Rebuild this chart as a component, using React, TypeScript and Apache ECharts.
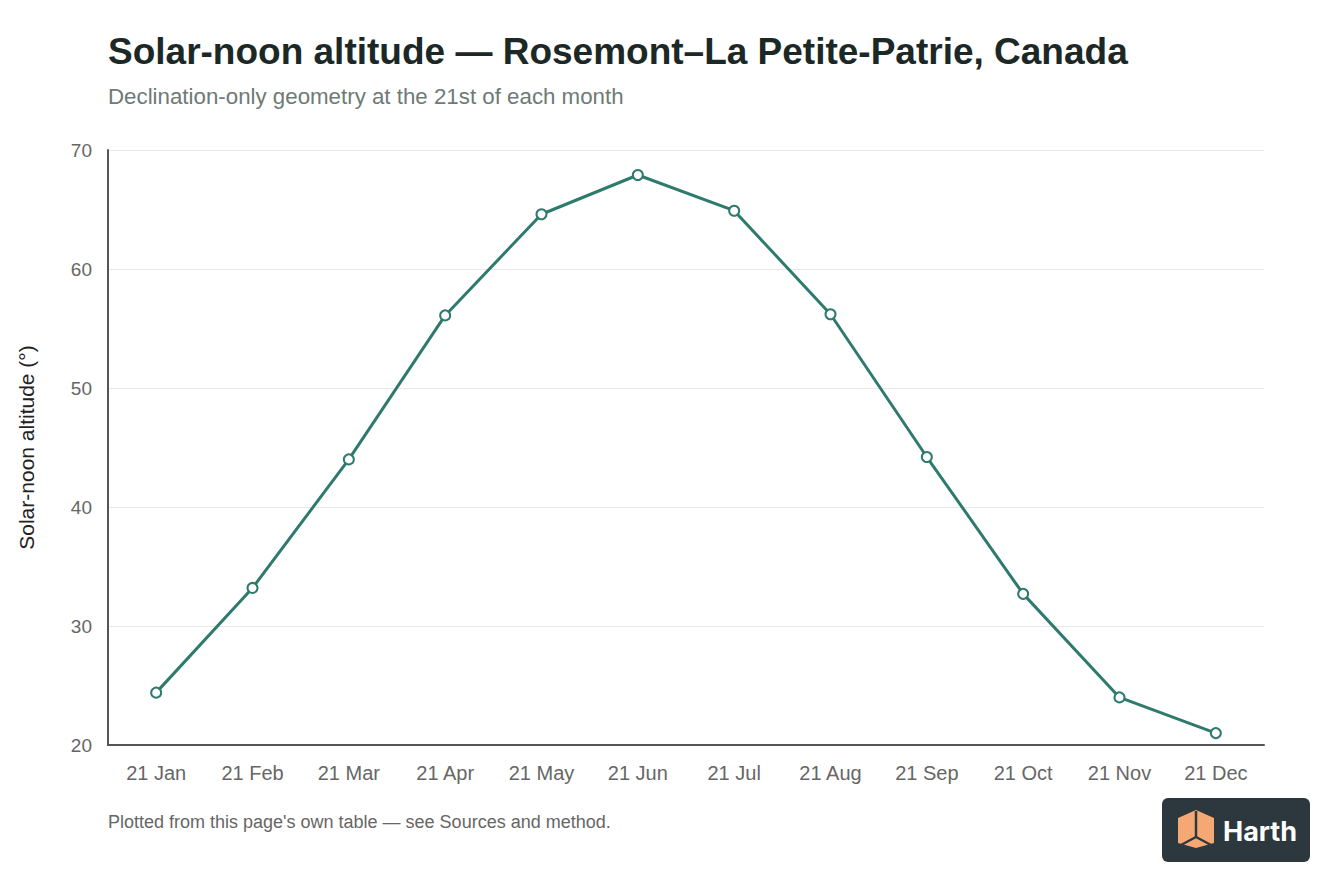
import { useEffect, useRef } from "react"
import * as echarts from "echarts"

const months = ["21 Jan", "21 Feb", "21 Mar", "21 Apr", "21 May", "21 Jun", "21 Jul", "21 Aug", "21 Sep", "21 Oct", "21 Nov", "21 Dec"]
const altitude = [24.4, 33.2, 44.0, 56.1, 64.6, 67.9, 64.9, 56.2, 44.2, 32.7, 24.0, 21.0]

const FONT = "'Liberation Sans', Arial, Helvetica, sans-serif"
const LINE = "#2e7a6d"

export default function App() {
  const chartRef = useRef<HTMLDivElement>(null)

  useEffect(() => {
    document.body.style.margin = "0"
    if (!chartRef.current) return
    const chart = echarts.init(chartRef.current, undefined, { renderer: "svg" })

    const option = {
      animation: false,
      backgroundColor: "#ffffff",
      textStyle: { fontFamily: FONT },
      title: {
        text: "Solar-noon altitude — Rosemont–La Petite-Patrie, Canada",
        subtext: "Declination-only geometry at the 21st of each month",
        left: 103,
        top: 28,
        itemGap: 15,
        textStyle: { fontSize: 37, fontWeight: 600, color: "#1c2826", fontFamily: FONT },
        subtextStyle: { fontSize: 22.3, color: "#6e7a76", fontFamily: FONT },
      },
      grid: { left: 108, right: 80, top: 150, bottom: 151, containLabel: false },
      xAxis: {
        type: "category",
        data: months,
        boundaryGap: true,
        axisLine: { lineStyle: { color: "#555555", width: 2 } },
        axisTick: { show: false },
        axisLabel: { color: "#666666", fontSize: 20, margin: 18, fontFamily: FONT },
        splitLine: { show: false },
      },
      yAxis: {
        type: "value",
        min: 20,
        max: 70,
        interval: 10,
        name: "Solar-noon altitude (°)",
        nameLocation: "middle",
        nameGap: 71,
        nameTextStyle: { fontSize: 21, color: "#222222", fontFamily: FONT },
        axisLine: { show: true, lineStyle: { color: "#555555", width: 2 } },
        axisTick: { show: false },
        axisLabel: { color: "#666666", fontSize: 19, margin: 16, fontFamily: FONT },
        splitLine: { lineStyle: { color: "#e8e8e8", width: 1 } },
      },
      series: [
        {
          type: "line",
          data: altitude,
          symbol: "emptyCircle",
          symbolSize: 10,
          lineStyle: { color: LINE, width: 3 },
          itemStyle: { color: LINE, borderColor: LINE, borderWidth: 2 },
        },
      ],
      graphic: [
        {
          type: "text",
          left: 108,
          top: 813,
          style: {
            text: "Plotted from this page's own table — see Sources and method.",
            fontSize: 18,
            fill: "#666666",
            fontFamily: FONT,
          },
        },
        {
          type: "group",
          left: 1162,
          top: 798,
          children: [
            { type: "rect", shape: { x: 0, y: 0, width: 148, height: 64, r: 6 }, style: { fill: "#2c383e" } },
            {
              type: "polygon",
              shape: { points: [[34, 12], [52, 20], [52, 45], [34, 50], [16, 45], [16, 20]] },
              style: { fill: "#f5a873" },
            },
            { type: "line", shape: { x1: 34, y1: 13, x2: 34, y2: 39 }, style: { stroke: "#2c383e", lineWidth: 2.5 } },
            { type: "line", shape: { x1: 34, y1: 39, x2: 19, y2: 47 }, style: { stroke: "#2c383e", lineWidth: 2.5 } },
            { type: "line", shape: { x1: 34, y1: 39, x2: 49, y2: 47 }, style: { stroke: "#2c383e", lineWidth: 2.5 } },
            {
              type: "text",
              x: 61,
              y: 33,
              style: {
                text: "Harth",
                fontSize: 27,
                fontWeight: "bold",
                fill: "#ffffff",
                fontFamily: "Inter, 'Liberation Sans', sans-serif",
                textVerticalAlign: "middle",
              },
            },
          ],
        },
      ],
    }

    chart.setOption(option)
    return () => {
      chart.dispose()
    }
  }, [])

  return <div ref={chartRef} style={{ width: 1344, height: 896 }} />
}
